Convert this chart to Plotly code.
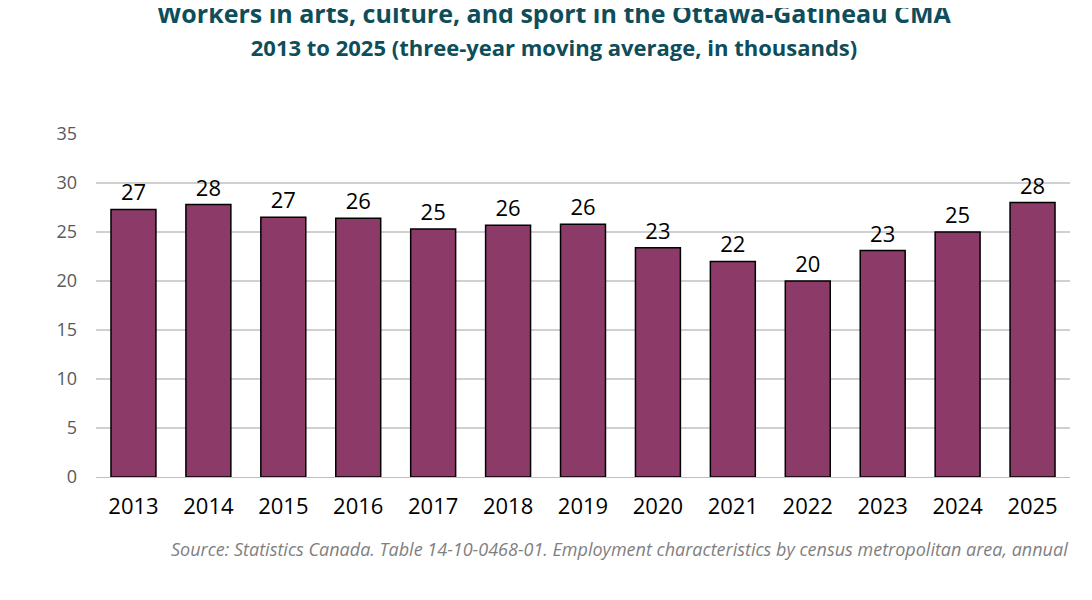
import plotly.graph_objects as go

years = ["2013", "2014", "2015", "2016", "2017", "2018", "2019",
         "2020", "2021", "2022", "2023", "2024", "2025"]
workers = [27.3, 27.8, 26.5, 26.4, 25.3, 25.7, 25.8, 23.4, 22.0, 20.0, 23.1, 25.0, 28.0]
labels = ["27", "28", "27", "26", "25", "26", "26", "23", "22", "20", "23", "25", "28"]

fig = go.Figure(go.Bar(
    x=years, y=workers, text=labels, textposition="outside",
    textfont=dict(size=22, color="#000000"),
    marker=dict(color="#8C3A67", line=dict(color="#000000", width=1.5)),
    width=0.6, cliponaxis=False,
))

fig.update_layout(
    width=1092, height=600,
    paper_bgcolor="white", plot_bgcolor="white",
    font=dict(family="Open Sans, sans-serif"),
    margin=dict(l=88, r=30, t=126, b=131),
    title=dict(
        text="<b>Workers in arts, culture, and sport in the Ottawa-Gatineau CMA</b><br>"
             "<b><span style='font-size:22px'>2013 to 2025 (three-year moving average, in thousands)</span></b>",
        x=0.5, xanchor="center", y=0.975, yanchor="top",
        font=dict(size=25, color="#0E4D5A"),
    ),
    xaxis=dict(tickfont=dict(size=22, color="#000000"), showline=True,
               linecolor="#BFBFBF", linewidth=1, ticklabelstandoff=10),
    yaxis=dict(range=[0, 35], dtick=5, tickfont=dict(size=18, color="#595959"),
               showgrid=True, gridcolor="#D0D0D0", gridwidth=1.5, zeroline=False,
               ticklabelstandoff=18),
    bargap=0.4,
    showlegend=False,
)

fig.add_annotation(
    text="<i>Source: Statistics Canada. Table 14-10-0468-01. Employment characteristics by census metropolitan area, annual</i>",
    xref="paper", yref="paper", x=1.0, y=-0.21, xanchor="right", yanchor="middle",
    showarrow=False, font=dict(size=18, color="#7F7F7F"),
)

fig.write_html("out.html")
